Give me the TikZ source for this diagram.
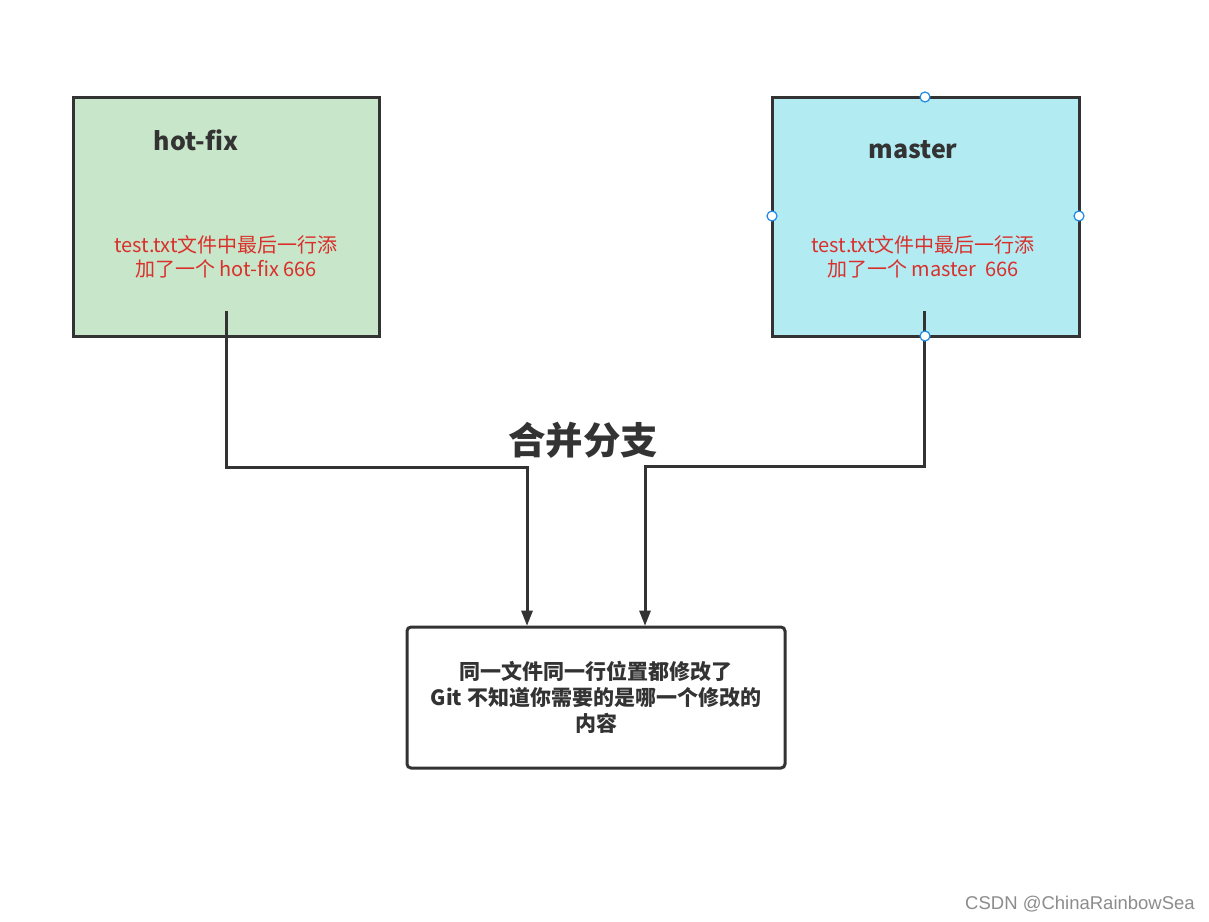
\documentclass[tikz,border=0pt]{standalone}
\usepackage{fontspec}
\setmainfont{Noto Sans CJK SC}
\newfontfamily\wmfont{Liberation Sans}
\definecolor{edge}{HTML}{333333}
\definecolor{greenfill}{HTML}{C8E6C9}
\definecolor{cyanfill}{HTML}{B2EBF2}
\definecolor{redtxt}{HTML}{D9302C}
\definecolor{handle}{HTML}{1E88E5}
\begin{document}
\begin{tikzpicture}[x=1pt,y=-1pt,
  branchbox/.style={draw=edge,line width=3pt},
  titletxt/.style={font=\fontsize{25}{30}\selectfont\bfseries,text=edge,inner sep=0},
  redlabel/.style={font=\fontsize{20}{24.5}\selectfont,text=redtxt,align=center,inner sep=0},
  connline/.style={draw=edge,line width=3pt},
  conntip/.style={fill=edge},
  handledot/.style={circle,draw=handle,fill=white,line width=1.2pt,minimum size=10pt,inner sep=0}]
\useasboundingbox (0,0) rectangle (1209,921);
\fill[white] (0,0) rectangle (1209,921);
% boxes
\path[branchbox,fill=greenfill] (73,97) rectangle (379,336);
\path[branchbox,fill=cyanfill] (772,97) rectangle (1079,336);
\node[titletxt] (hftitle) at (196,140) {hot-fix};
\node[titletxt] (mtitle) at (913,150) {master};
\node[redlabel] (hftext) at (226,257) {test.txt文件中最后一行添\\加了一个 hot-fix 666};
\node[redlabel] (mtext) at (923,257) {test.txt文件中最后一行添\\加了一个 master\ \ 666};
% title
\node[font=\fontsize{37.5}{44}\selectfont\bfseries,text=edge,inner sep=0] (merge) at (583,440) {合并分支};
% bottom box
\node[draw=edge,line width=3pt,rounded corners=4pt,minimum width=378pt,minimum height=141pt,
  font=\fontsize{21}{26}\selectfont\bfseries,text=edge,align=center,inner sep=0] (result) at (596,697.5)
  {同一文件同一行位置都修改了\\Git 不知道你需要的是哪一个修改的\\内容};
% connectors
\coordinate (hfstart) at (226,311);
\coordinate (mstart) at (924,311);
\coordinate (hfbend) at (527,467);
\coordinate (mbend) at (645,466);
\coordinate (hfend) at (hfbend |- result.north);
\coordinate (mend) at (mbend |- result.north);
\path[connline] (hfstart) |- (hfbend) -- ([yshift=12pt]hfend);
\path[connline] (mstart) |- (mbend) -- ([yshift=12pt]mend);
\path[conntip] (hfend) -- ++(-6,-15) -- ++(12,0) -- cycle;
\path[conntip] (mend) -- ++(-6,-15) -- ++(12,0) -- cycle;
% handles
\node[handledot] (h1) at (925,97) {};
\node[handledot] (h2) at (772,216) {};
\node[handledot] (h3) at (1079,216) {};
\node[handledot] (h4) at (925,336) {};
% watermark
\node[font=\wmfont\fontsize{18.5}{22}\selectfont,text=black!45,inner sep=0] (wm) at (1080,904) {CSDN @ChinaRainbowSea};
\end{tikzpicture}
\end{document}
